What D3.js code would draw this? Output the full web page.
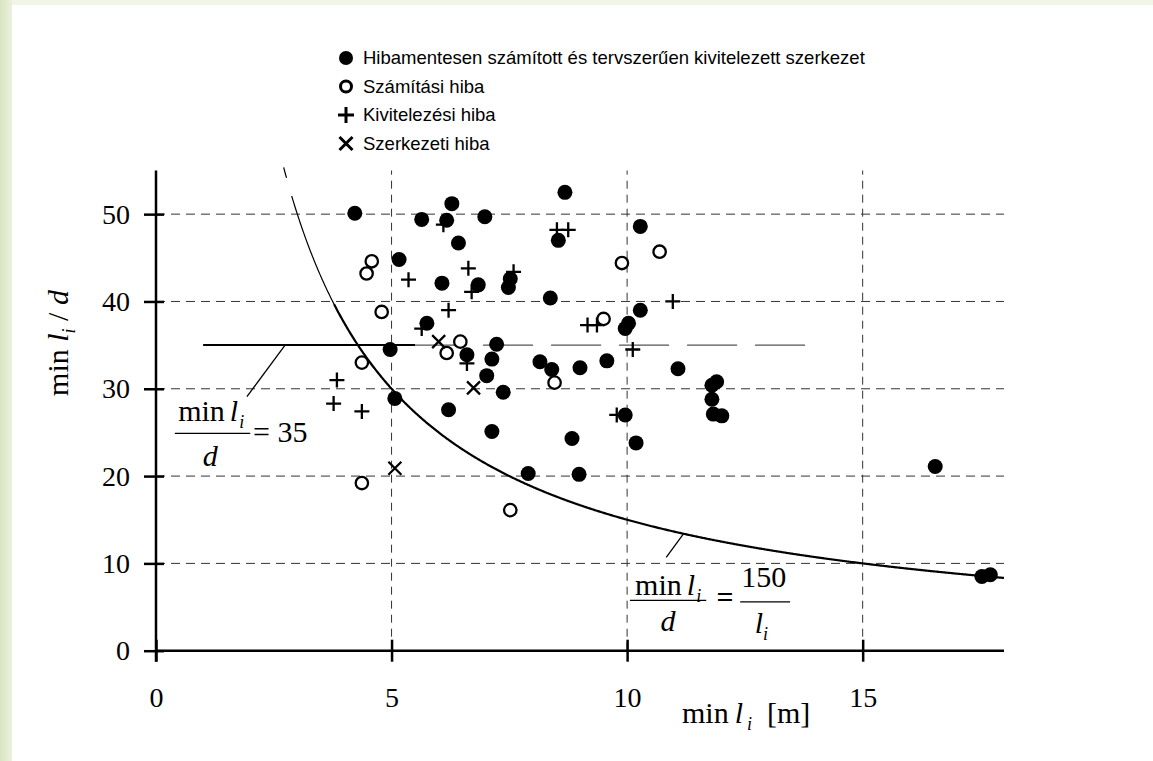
<!DOCTYPE html>
<html>
<head>
<meta charset="utf-8">
<script src="https://cdn.jsdelivr.net/npm/d3@7"></script>
<style>
  body { margin: 0; background: #fff; }
  svg { display: block; }
</style>
</head>
<body>
<div id="chart"></div>
<script>
// data: [min l_i (m), min l_i / d]
const hibamentes = [
  [4.22, 50.1], [5.64, 49.4], [6.28, 51.2], [6.17, 49.3], [6.98, 49.7], [6.42, 46.7],
  [5.16, 44.8], [6.07, 42.1], [6.84, 41.9], [7.48, 41.6], [7.52, 42.6], [5.75, 37.5],
  [4.97, 34.5], [6.60, 33.9], [7.23, 35.1], [7.13, 33.4], [7.02, 31.5], [7.37, 29.6],
  [5.07, 28.9], [6.21, 27.6], [7.13, 25.1], [7.90, 20.3], [8.68, 52.5], [8.54, 47.0],
  [10.28, 48.6], [8.37, 40.4], [10.28, 39.0], [9.96, 36.9], [10.03, 37.5], [8.15, 33.1],
  [8.40, 32.2], [9.00, 32.4], [9.57, 33.2], [11.08, 32.3], [11.80, 30.4], [11.90, 30.8],
  [11.80, 28.8], [11.83, 27.1], [12.01, 26.9], [9.96, 27.0], [8.83, 24.3], [10.19, 23.8],
  [8.98, 20.2], [16.54, 21.1], [17.53, 8.5], [17.71, 8.7]
];
const szamitasi = [
  [4.58, 44.6], [4.47, 43.2], [4.79, 38.8], [4.37, 33.0], [6.46, 35.4], [6.17, 34.1],
  [4.37, 19.2], [7.52, 16.1], [10.69, 45.7], [9.89, 44.4], [9.50, 38.0], [8.46, 30.7]
];
const kivitelezesi = [
  [6.10, 48.8], [5.36, 42.5], [6.63, 43.8], [6.70, 41.1], [7.59, 43.4], [6.21, 39.0],
  [5.64, 36.9], [6.60, 32.9], [3.84, 31.0], [3.77, 28.3], [4.37, 27.4], [8.51, 48.2],
  [8.75, 48.2], [10.97, 40.0], [9.16, 37.3], [9.36, 37.3], [10.12, 34.5], [9.78, 27.0]
];
const szerkezeti = [[6.00, 35.4], [6.74, 30.1], [5.07, 20.9]];

const xTicks = [0, 5, 10, 15];
const yTicks = [0, 10, 20, 30, 40, 50];
const legendLabels = [
  "Hibamentesen számított és tervszerűen kivitelezett szerkezet",
  "Számítási hiba",
  "Kivitelezési hiba",
  "Szerkezeti hiba"
];
const limitConst = 35;      // min l_i / d = 35
const curveConst = 150;     // min l_i / d = 150 / l_i

const W = 1153, H = 761;
const svg = d3.select('#chart').append('svg')
  .attr('width', W).attr('height', H);

// greenish slide edge
const grad = svg.append('defs').append('linearGradient').attr('id', 'edge');
grad.append('stop').attr('offset', '0%').attr('stop-color', '#d9e5c0');
grad.append('stop').attr('offset', '100%').attr('stop-color', '#ebf1df');
svg.append('rect').attr('width', W).attr('height', H).attr('fill', '#f1f5e8');
svg.append('rect').attr('width', 12).attr('height', H).attr('fill', 'url(#edge)');
svg.append('rect').attr('x', 12).attr('y', 5).attr('width', W - 12).attr('height', H - 5).attr('fill', '#fff');

const x = d3.scaleLinear().domain([0, 18]).range([156, 1004]);
const y = d3.scaleLinear().domain([0, 55]).range([650.7, 170.5]);

const serif = '"Liberation Serif", "Times New Roman", serif';
const sans = '"Liberation Sans", Arial, sans-serif';

// dashed grid
svg.append('g').selectAll('line').data(yTicks.slice(1)).join('line')
  .attr('x1', x(0)).attr('x2', x(18))
  .attr('y1', d => y(d)).attr('y2', d => y(d))
  .attr('stroke', '#333').attr('stroke-width', 1).attr('stroke-dasharray', '9,6');
svg.append('g').selectAll('line').data(xTicks.slice(1)).join('line')
  .attr('x1', d => x(d)).attr('x2', d => x(d))
  .attr('y1', y(0)).attr('y2', y(55))
  .attr('stroke', '#333').attr('stroke-width', 1).attr('stroke-dasharray', '8,6');

// axes
const yAxis = svg.append('g').attr('transform', `translate(${x(0)},0)`)
  .call(d3.axisLeft(y).tickValues(yTicks).tickSize(12).tickPadding(14).tickFormat(d3.format('d')));
yAxis.selectAll('.tick line').attr('x1', 8);
const xAxis = svg.append('g').attr('transform', `translate(0,${y(0)})`)
  .call(d3.axisBottom(x).tickValues(xTicks).tickSize(11).tickPadding(25).tickFormat(d3.format('d')));
xAxis.selectAll('.tick line').attr('y1', -11);
[yAxis, xAxis].forEach(a => {
  a.select('.domain').remove();
  a.selectAll('.tick line').attr('stroke', '#000').attr('stroke-width', 2.5);
  a.selectAll('.tick text').attr('fill', '#000').style('font-family', serif).style('font-size', '28px');
});
svg.append('line').attr('x1', x(0)).attr('x2', x(0)).attr('y1', y(0) + 11).attr('y2', y(55))
  .attr('stroke', '#000').attr('stroke-width', 2.5);
svg.append('line').attr('x1', x(0)).attr('x2', x(18)).attr('y1', y(0)).attr('y2', y(0))
  .attr('stroke', '#000').attr('stroke-width', 2.5);

// horizontal limit 35: solid part, then faint long dashes
svg.append('line').attr('x1', x(1)).attr('x2', x(5.5)).attr('y1', y(limitConst)).attr('y2', y(limitConst))
  .attr('stroke', '#000').attr('stroke-width', 2);
svg.append('line').attr('x1', x(5.5)).attr('x2', x(14)).attr('y1', y(limitConst)).attr('y2', y(limitConst))
  .attr('stroke', '#555').attr('stroke-width', 1.3).attr('stroke-dasharray', '50,18');

// 150 / l curve
const hyper = (a, b) => d3.range(a, b + 0.001, 0.02).map(l => [l, curveConst / l]);
const line = d3.line().x(d => x(d[0])).y(d => y(d[1]));
svg.append('path').attr('d', line(hyper(2.71, 2.78))).attr('fill', 'none').attr('stroke', '#000').attr('stroke-width', 1.2);
svg.append('path').attr('d', line(hyper(2.88, 3.8))).attr('fill', 'none').attr('stroke', '#000').attr('stroke-width', 1.2);
svg.append('path').attr('d', line(hyper(3.78, 18))).attr('fill', 'none').attr('stroke', '#000').attr('stroke-width', 2.2);

// leader lines to the formulas
const leaders = [[[2.74, 35], [1.93, 29.1]], [[11.2, 13.4], [10.83, 10.7]]];
svg.append('g').selectAll('line').data(leaders).join('line')
  .attr('x1', d => x(d[0][0])).attr('y1', d => y(d[0][1]))
  .attr('x2', d => x(d[1][0])).attr('y2', d => y(d[1][1]))
  .attr('stroke', '#000').attr('stroke-width', 1.3);

// markers
const g = svg.append('g');
g.selectAll('.full').data(hibamentes).join('circle')
  .attr('cx', d => x(d[0])).attr('cy', d => y(d[1])).attr('r', 7.5).attr('fill', '#000');
g.selectAll('.ring').data(szamitasi).join('circle')
  .attr('cx', d => x(d[0])).attr('cy', d => y(d[1])).attr('r', 6.2)
  .attr('fill', '#fff').attr('stroke', '#000').attr('stroke-width', 2.3);
const plus = s => `M${-s},0H${s}M0,${-s}V${s}`;
const cross = s => `M${-s},${-s}L${s},${s}M${-s},${s}L${s},${-s}`;
g.selectAll('.plus').data(kivitelezesi).join('path')
  .attr('transform', d => `translate(${x(d[0])},${y(d[1])})`)
  .attr('d', plus(7.5)).attr('stroke', '#000').attr('stroke-width', 2.3);
g.selectAll('.cross').data(szerkezeti).join('path')
  .attr('transform', d => `translate(${x(d[0])},${y(d[1])})`)
  .attr('d', cross(6.5)).attr('stroke', '#000').attr('stroke-width', 2.3);

// legend
const leg = svg.append('g').attr('transform', 'translate(346,58)');
const rowY = i => i * 28.5;
leg.append('circle').attr('cy', rowY(0)).attr('r', 7).attr('fill', '#000');
leg.append('circle').attr('cy', rowY(1)).attr('r', 5.5).attr('fill', 'none').attr('stroke', '#000').attr('stroke-width', 3);
leg.append('path').attr('transform', `translate(0,${rowY(2)})`).attr('d', plus(8)).attr('stroke', '#000').attr('stroke-width', 3);
leg.append('path').attr('transform', `translate(0,${rowY(3)})`).attr('d', cross(6.5)).attr('stroke', '#000').attr('stroke-width', 3);
leg.selectAll('text').data(legendLabels).join('text')
  .attr('x', 17).attr('y', (d, i) => rowY(i)).attr('dy', '0.35em')
  .style('font-family', sans).style('font-size', '18.5px').text(d => d);

// axis titles
const xt = svg.append('text').attr('x', 682).attr('y', 723)
  .style('font-family', serif).style('font-size', '30px');
xt.append('tspan').text('min');
xt.append('tspan').attr('dx', 6).style('font-style', 'italic').text('l');
xt.append('tspan').attr('dx', 4).attr('dy', 7).style('font-style', 'italic').style('font-size', '18px').text('i');
xt.append('tspan').attr('dx', 15).attr('dy', -7).text('[m]');

const yt = svg.append('text').attr('transform', 'translate(68,343) rotate(-90)')
  .attr('text-anchor', 'middle').style('font-family', serif).style('font-size', '30px');
yt.append('tspan').text('min ');
yt.append('tspan').style('font-style', 'italic').text('l');
yt.append('tspan').attr('dy', 7).style('font-style', 'italic').style('font-size', '18px').text('i');
yt.append('tspan').attr('dy', -7).text(' / ');
yt.append('tspan').style('font-style', 'italic').text('d');

// formula: min l_i / d = 35
function minL(sel, fs) {
  sel.append('tspan').text('min');
  sel.append('tspan').attr('dx', 5).style('font-style', 'italic').text('l');
  sel.append('tspan').attr('dx', 1).attr('dy', 7).style('font-style', 'italic').style('font-size', (fs * 0.6) + 'px').text('i');
}
const f1 = svg.append('g').style('font-family', serif).style('font-size', '30px');
minL(f1.append('text').attr('x', x(0.47)).attr('y', y(26.3)), 30);
f1.append('line').attr('x1', x(0.4)).attr('x2', x(2.0)).attr('y1', y(24.9)).attr('y2', y(24.9))
  .attr('stroke', '#000').attr('stroke-width', 1.3);
f1.append('text').attr('x', x(1.15)).attr('y', y(21.2)).attr('text-anchor', 'middle').style('font-style', 'italic').text('d');
f1.append('text').attr('x', x(2.06)).attr('y', y(23.9)).text('= ' + limitConst);

// formula: min l_i / d = 150 / l_i
const f2 = svg.append('g').style('font-family', serif).style('font-size', '30px');
minL(f2.append('text').attr('x', x(10.17)).attr('y', y(6.35)), 30);
f2.append('line').attr('x1', x(10.06)).attr('x2', x(11.68)).attr('y1', y(5.77)).attr('y2', y(5.77))
  .attr('stroke', '#000').attr('stroke-width', 1.3);
f2.append('text').attr('x', x(10.87)).attr('y', y(2.25)).attr('text-anchor', 'middle').style('font-style', 'italic').text('d');
f2.append('text').attr('x', x(12.08)).attr('y', y(5.0)).attr('text-anchor', 'middle').style('font-weight', 'bold').text('=');
f2.append('text').attr('x', x(12.9)).attr('y', y(7.34)).attr('text-anchor', 'middle').text(curveConst);
f2.append('line').attr('x1', x(12.4)).attr('x2', x(13.46)).attr('y1', y(5.6)).attr('y2', y(5.6))
  .attr('stroke', '#000').attr('stroke-width', 1.3);
const li = f2.append('text').attr('x', x(12.85)).attr('y', y(2.0)).attr('text-anchor', 'middle').style('font-style', 'italic');
li.append('tspan').text('l');
li.append('tspan').attr('dy', 7).style('font-size', '18px').text('i');
</script>
</body>
</html>
